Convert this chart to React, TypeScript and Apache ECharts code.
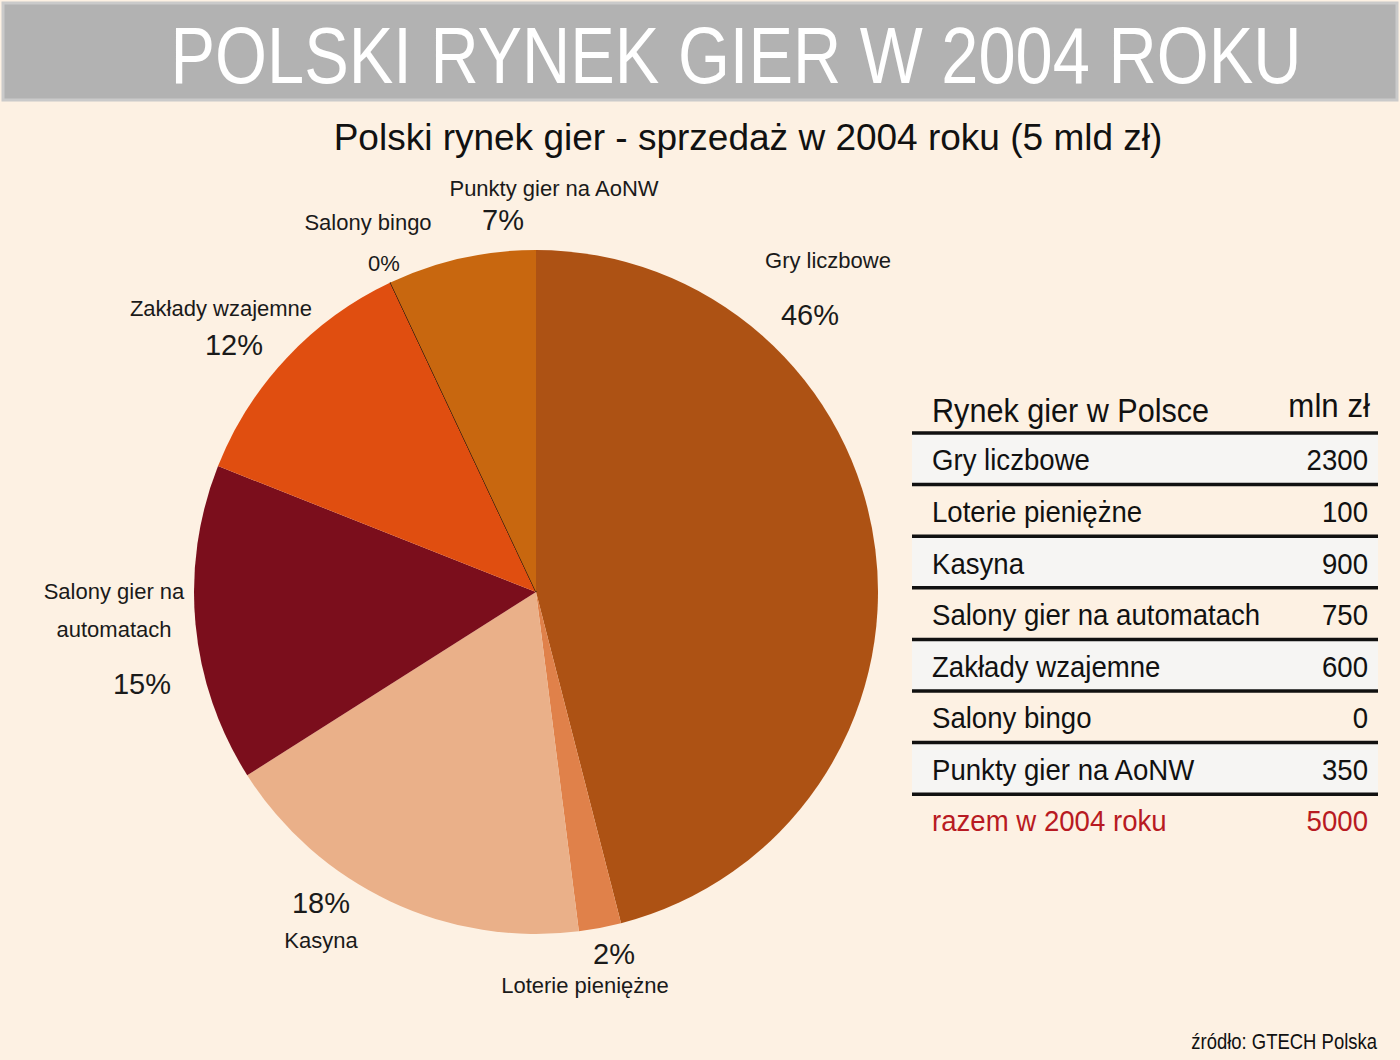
import React, { useEffect, useRef } from "react";
import * as echarts from "echarts";

// ---- data ----
const categories = [
  "Gry liczbowe",
  "Loterie pieniężne",
  "Kasyna",
  "Salony gier na automatach",
  "Zakłady wzajemne",
  "Salony bingo",
  "Punkty gier na AoNW",
];
const values = [2300, 100, 900, 750, 600, 0, 350];
const pieNames = [
  "Gry liczbowe",
  "Loterie pieniężne",
  "Kasyna",
  "Salony gier na\nautomatach",
  "Zakłady wzajemne",
  "Salony bingo",
  "Punkty gier na AoNW",
];
const totalLabel = "razem w 2004 roku";
const tableHeader = "Rynek gier w Polsce";
const unitLabel = "mln zł";
const mainTitle = "POLSKI RYNEK GIER W 2004 ROKU";
const subTitle = "Polski rynek gier - sprzedaż w 2004 roku (5 mld zł)";
const sourceText = "źródło: GTECH Polska";

// ---- styles ----
const colors = ["#AD5214", "#E0814A", "#EAB089", "#7B0E1C", "#E04E10", "#3a2a20", "#C8670F"];
const BG = "#FDF1E3";
const SANS = "'Liberation Sans', Arial, sans-serif";

// label layout: x = centre of name, top of block, pct offset, pct line height, pct first, pct size
const labelLayouts = [
  { x: 828, top: 241, dx: -18, pLH: 72, pctFirst: false, pSize: 29 },
  { x: 585, top: 942, dx: 29, pLH: 24, pctFirst: true, pSize: 29 },
  { x: 321, top: 885, dx: 0, pLH: 36, pctFirst: true, pSize: 29 },
  { x: 114, top: 572, dx: 28, pLH: 72, pctFirst: false, pSize: 29 },
  { x: 221, top: 289, dx: 13, pLH: 36, pctFirst: false, pSize: 29 },
  { x: 368, top: 203, dx: 16, pLH: 44, pctFirst: false, pSize: 22 },
  { x: 554, top: 169, dx: -51, pLH: 26, pctFirst: false, pSize: 29 },
];

function txt(x: number, y: number, text: string, size: number, sx: number, align: string, fill = "#111") {
  return {
    type: "text",
    x,
    y,
    scaleX: sx,
    style: { text, fill, font: `${size}px ${SANS}`, align, verticalAlign: "middle" },
  };
}

export default function App() {
  const ref = useRef<HTMLDivElement>(null);
  useEffect(() => {
    document.body.style.margin = "0";
    const chart = echarts.init(ref.current!, null, { renderer: "svg" });
    const total = values.reduce((a, b) => a + b, 0);

    const data = values.map((v, i) => {
      const L = labelLayouts[i];
      const pct = Math.round((v / total) * 100) + "%";
      const nameLines = pieNames[i].split("\n").map((s) => `{n|${s}}`).join("\n");
      const fmt = L.pctFirst ? `{p|${pct}}\n${nameLines}` : `${nameLines}\n{p|${pct}}`;
      const pad = L.dx >= 0 ? [0, 0, 0, 2 * L.dx] : [0, -2 * L.dx, 0, 0];
      return {
        name: categories[i],
        value: v,
        itemStyle:
          v === 0
            ? { color: colors[i], borderColor: "#2a1a10", borderWidth: 1 }
            : { color: colors[i], borderWidth: 0 },
        label: {
          show: true,
          formatter: fmt,
          rich: {
            n: { fontFamily: SANS, fontSize: 22, lineHeight: 38, color: "#1a1a1a" },
            p: { fontFamily: SANS, fontSize: L.pSize, lineHeight: L.pLH, color: "#1a1a1a", padding: pad },
          },
        },
      };
    });

    // table graphics
    const tLeft = 912, tRight = 1378, firstLine = 433, rowH = 51.6;
    const g: any[] = [];
    g.push({ type: "rect", shape: { x: 3, y: 3, width: 1394, height: 97 }, style: { fill: "#B2B2B2", stroke: "#CACACA", lineWidth: 3 } });
    g.push(txt(736, 55, mainTitle, 80, 0.835, "center", "#ffffff"));
    g.push(txt(748, 137, subTitle, 37, 1, "center"));
    categories.forEach((c, i) => {
      const y0 = firstLine + i * rowH;
      if (i % 2 === 0) {
        g.push({ type: "rect", shape: { x: tLeft, y: y0, width: tRight - tLeft, height: rowH }, style: { fill: "#F6F5F3" } });
      }
    });
    for (let k = 0; k <= categories.length; k++) {
      const y = firstLine + k * rowH;
      g.push({ type: "line", shape: { x1: tLeft, y1: y, x2: tRight, y2: y }, style: { stroke: "#111", lineWidth: 3.5 } });
    }
    g.push(txt(932, 410, tableHeader, 34, 0.9, "left"));
    g.push(txt(1370, 405, unitLabel, 34, 0.92, "right"));
    categories.forEach((c, i) => {
      const yc = firstLine + i * rowH + 27;
      g.push(txt(932, yc, c, 30, 0.92, "left"));
      g.push(txt(1368, yc, String(values[i]), 30, 0.92, "right"));
    });
    const yt = firstLine + categories.length * rowH + 26;
    g.push(txt(932, yt, totalLabel, 30, 0.92, "left", "#B81A22"));
    g.push(txt(1368, yt, String(total), 30, 0.92, "right", "#B81A22"));
    g.push(txt(1377, 1041, sourceText, 22, 0.84, "right"));

    chart.setOption({
      animation: false,
      backgroundColor: BG,
      graphic: g,
      series: [
        {
          type: "pie",
          center: [536, 592],
          radius: 342,
          startAngle: 90,
          clockwise: true,
          avoidLabelOverlap: false,
          stillShowZeroSum: true,
          label: { show: true, position: "outside" },
          labelLine: { show: false },
          labelLayout: (params: any) => {
            const L = labelLayouts[params.dataIndex];
            return { x: L.x, y: L.top, align: "center", verticalAlign: "top" };
          },
          emphasis: { disabled: true },
          data,
        },
      ],
    });
    return () => chart.dispose();
  }, []);
  return <div ref={ref} style={{ position: "fixed", left: 0, top: 0, width: 1400, height: 1060 }} />;
}
